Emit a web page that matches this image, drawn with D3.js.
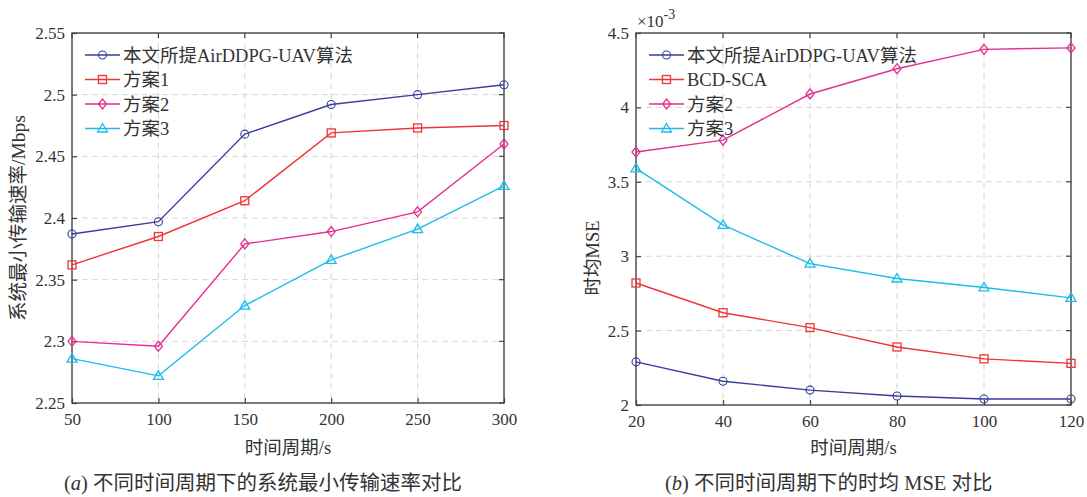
<!DOCTYPE html>
<html lang="zh">
<head>
<meta charset="UTF-8">
<title>时间周期对比</title>
<script src="https://d3js.org/d3.v7.min.js"></script>
<style>
  body { margin: 0; background: #fff; }
  text { font-family: "Liberation Serif", "Noto Sans CJK SC", serif; fill: #333; }
  .grid line { stroke: #d6d6d6; stroke-dasharray: 6 4; stroke-width: 1; }
  .frame { fill: none; stroke: #444; stroke-width: 1.4; }
  .tick-mark { stroke: #444; stroke-width: 1.2; }
</style>
</head>
<body>
<svg width="1087" height="497"></svg>
<script>
// ---- data ----
const periodsA = [50, 100, 150, 200, 250, 300];
const rateOurs = [2.387, 2.397, 2.468, 2.492, 2.500, 2.508];
const rateS1   = [2.362, 2.385, 2.414, 2.469, 2.473, 2.475];
const rateS2   = [2.300, 2.296, 2.379, 2.389, 2.405, 2.460];
const rateS3   = [2.286, 2.272, 2.329, 2.366, 2.391, 2.426];
const yTicksA  = [2.25, 2.3, 2.35, 2.4, 2.45, 2.5, 2.55];

const periodsB = [20, 40, 60, 80, 100, 120];
const mseOurs = [2.29, 2.16, 2.10, 2.06, 2.04, 2.04];
const mseBCD  = [2.82, 2.62, 2.52, 2.39, 2.31, 2.28];
const mseS2   = [3.70, 3.78, 4.09, 4.26, 4.39, 4.40];
const mseS3   = [3.59, 3.21, 2.95, 2.85, 2.79, 2.72];
const yTicksB = [2, 2.5, 3, 3.5, 4, 4.5];

const colors = { navy: "#383d9a", red: "#ef3438", pink: "#e52f91", cyan: "#19bdec" };

const svg = d3.select("svg");

function drawMarker(g, type, x, y, color) {
  if (type === "circle") {
    g.append("circle").attr("cx", x).attr("cy", y).attr("r", 4)
      .attr("fill", "none").attr("stroke", color).attr("stroke-width", 1.1);
  } else if (type === "square") {
    g.append("rect").attr("x", x - 4).attr("y", y - 4).attr("width", 8).attr("height", 8)
      .attr("fill", "none").attr("stroke", color).attr("stroke-width", 1.3);
  } else if (type === "diamond") {
    g.append("path").attr("d", `M${x},${y - 5}L${x + 4},${y}L${x},${y + 5}L${x - 4},${y}Z`)
      .attr("fill", "none").attr("stroke", color).attr("stroke-width", 1.3);
  } else {
    g.append("path").attr("d", `M${x},${y - 5}L${x + 5},${y + 3.5}L${x - 5},${y + 3.5}Z`)
      .attr("fill", "none").attr("stroke", color).attr("stroke-width", 1.3);
  }
}

function panel(opt) {
  const { left, right, top, bottom, xs, xDomain, yDomain, yTicks, series, legendX, yLabel, yFmt } = opt;
  const x = d3.scaleLinear().domain(xDomain).range([left, right]);
  const y = d3.scaleLinear().domain(yDomain).range([bottom, top]);
  const g = svg.append("g");

  // grid
  const grid = g.append("g").attr("class", "grid");
  xs.slice(1, -1).forEach(v => grid.append("line")
    .attr("x1", x(v)).attr("x2", x(v)).attr("y1", top).attr("y2", bottom));
  yTicks.slice(1, -1).forEach(v => grid.append("line")
    .attr("x1", left).attr("x2", right).attr("y1", y(v)).attr("y2", y(v)));

  // axes with d3 (inward ticks), plus mirrored ticks on top/right
  const xAxis = d3.axisBottom(x).tickValues(xs).tickSize(-5).tickPadding(10).tickFormat(d3.format("d"));
  const yAxis = d3.axisLeft(y).tickValues(yTicks).tickSize(-5).tickPadding(7).tickFormat(yFmt);
  const gx = g.append("g").attr("transform", `translate(0,${bottom})`).call(xAxis);
  const gy = g.append("g").attr("transform", `translate(${left},0)`).call(yAxis);
  [gx, gy].forEach(a => {
    a.select(".domain").remove();
    a.selectAll(".tick line").attr("class", "tick-mark");
    a.selectAll("text").style("font-size", "17px").attr("fill", "#333");
  });
  xs.forEach(v => g.append("line").attr("class", "tick-mark")
    .attr("x1", x(v)).attr("x2", x(v)).attr("y1", top).attr("y2", top + 5));
  yTicks.forEach(v => g.append("line").attr("class", "tick-mark")
    .attr("x1", right).attr("x2", right - 5).attr("y1", y(v)).attr("y2", y(v)));

  g.append("rect").attr("class", "frame")
    .attr("x", left).attr("y", top).attr("width", right - left).attr("height", bottom - top);

  // series
  const line = d3.line().x((d, i) => x(xs[i])).y(d => y(d));
  series.forEach(s => {
    g.append("path").datum(s.values).attr("d", line)
      .attr("fill", "none").attr("stroke", s.color).attr("stroke-width", 1.4);
    s.values.forEach((v, i) => drawMarker(g, s.marker, x(xs[i]), y(v), s.color));
  });

  // legend
  series.forEach((s, i) => {
    const ly = 55 + i * 24.5;
    g.append("line").attr("x1", legendX).attr("x2", legendX + 35).attr("y1", ly).attr("y2", ly)
      .attr("stroke", s.color).attr("stroke-width", 1.4);
    drawMarker(g, s.marker, legendX + 17.5, ly, s.color);
    g.append("text").attr("x", legendX + 38).attr("y", ly + 6.5)
      .style("font-size", "18.5px").text(s.name);
  });

  // axis titles
  g.append("text").attr("x", (left + right) / 2).attr("y", 454).attr("text-anchor", "middle")
    .style("font-size", "18.5px").text("时间周期/s");
  g.append("text").attr("transform", `translate(${yLabel.x},${yLabel.y}) rotate(-90)`)
    .attr("text-anchor", "middle").style("font-size", yLabel.size).text(yLabel.text);
  return g;
}

panel({
  left: 72, right: 504, top: 33, bottom: 403,
  xs: periodsA, xDomain: [50, 300], yDomain: [2.25, 2.55], yTicks: yTicksA,
  yFmt: d3.format("~g"),
  series: [
    { name: "本文所提AirDDPG-UAV算法", values: rateOurs, color: colors.navy, marker: "circle" },
    { name: "方案1", values: rateS1, color: colors.red, marker: "square" },
    { name: "方案2", values: rateS2, color: colors.pink, marker: "diamond" },
    { name: "方案3", values: rateS3, color: colors.cyan, marker: "triangle" }
  ],
  legendX: 85,
  yLabel: { x: 25, y: 218, text: "系统最小传输速率/Mbps", size: "19.5px" }
});

panel({
  left: 636, right: 1071, top: 33, bottom: 405,
  xs: periodsB, xDomain: [20, 120], yDomain: [2, 4.5], yTicks: yTicksB,
  yFmt: d3.format("~g"),
  series: [
    { name: "本文所提AirDDPG-UAV算法", values: mseOurs, color: colors.navy, marker: "circle" },
    { name: "BCD-SCA", values: mseBCD, color: colors.red, marker: "square" },
    { name: "方案2", values: mseS2, color: colors.pink, marker: "diamond" },
    { name: "方案3", values: mseS3, color: colors.cyan, marker: "triangle" }
  ],
  legendX: 649,
  yLabel: { x: 599, y: 258, text: "时均MSE", size: "18.5px" }
});

// exponent label
const ex = svg.append("text").attr("x", 637).attr("y", 27).style("font-size", "17px");
ex.append("tspan").text("×10");
ex.append("tspan").attr("dy", -8).style("font-size", "14px").text("-3");

// captions
const capA = svg.append("text").attr("x", 64).attr("y", 490).style("font-size", "20.5px");
capA.append("tspan").text("(");
capA.append("tspan").style("font-style", "italic").text("a");
capA.append("tspan").text(") 不同时间周期下的系统最小传输速率对比");

const capB = svg.append("text").attr("x", 665).attr("y", 490).style("font-size", "20.5px");
capB.append("tspan").text("(");
capB.append("tspan").style("font-style", "italic").text("b");
capB.append("tspan").text(") 不同时间周期下的时均 MSE 对比");
</script>
</body>
</html>
